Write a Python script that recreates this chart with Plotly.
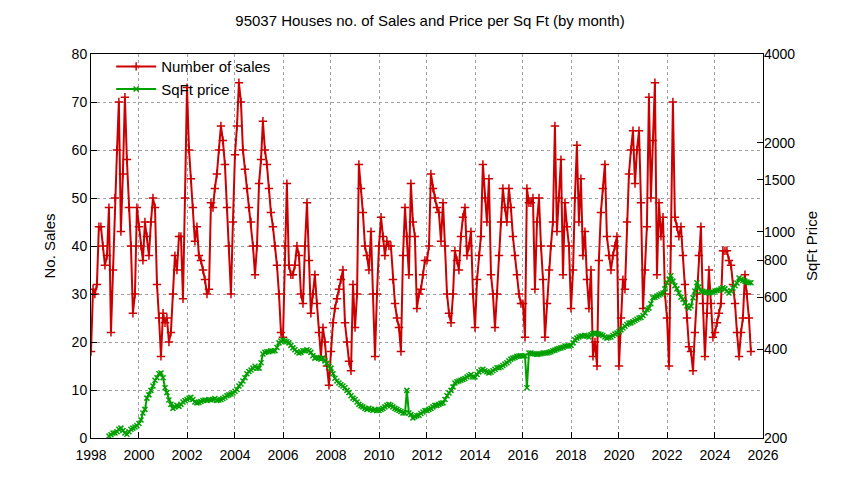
import pandas as pd
import plotly.graph_objects as go

# monthly number of sales, Jan 1998 - Jul 2025
sales = [
    18, 31, 30, 32, 44, 44, 40, 36, 38, 48, 22, 35,   # 1998
    50, 60, 70, 43, 55, 71, 58, 48, 40, 26, 30, 48,   # 1999
    44, 40, 37, 45, 42, 38, 45, 50, 48, 32, 25, 17,   # 2000
    26, 24, 25, 20, 22, 30, 38, 35, 42, 42, 29, 50,   # 2001
    73, 60, 54, 48, 41, 44, 38, 37, 35, 33, 30, 31,   # 2002
    49, 48, 52, 55, 60, 65, 62, 57, 48, 40, 30, 45,   # 2003
    59, 65, 74, 70, 60, 56, 52, 48, 45, 40, 34, 40,   # 2004
    53, 58, 66, 60, 57, 52, 47, 44, 40, 36, 30, 22,   # 2005
    21, 40, 53, 36, 34, 34, 36, 40, 38, 30, 28, 40,   # 2006
    49, 37, 26, 30, 34, 28, 22, 17, 23, 20, 15, 11,   # 2007
    18, 24, 27, 29, 31, 33, 35, 24, 20, 16, 14, 32,   # 2008
    23, 30, 57, 52, 47, 40, 38, 35, 43, 30, 17, 30,   # 2009
    40, 46, 42, 38, 41, 40, 40, 33, 28, 25, 23, 18,   # 2010
    38, 48, 42, 34, 53, 45, 42, 27, 30, 31, 34, 37,   # 2011
    37, 40, 55, 52, 50, 48, 47, 41, 49, 40, 30, 26,   # 2012
    24, 30, 39, 37, 35, 42, 46, 48, 38, 40, 43, 30,   # 2013
    23, 33, 38, 42, 57, 50, 45, 54, 34, 30, 23, 30,   # 2014
    38, 45, 52, 48, 45, 52, 48, 42, 38, 34, 30, 28,   # 2015
    28, 21, 52, 49, 49, 50, 31, 45, 50, 40, 33, 21,   # 2016
    28, 35, 40, 45, 65, 43, 50, 58, 34, 49, 44, 40,   # 2017
    27, 35, 50, 61, 45, 54, 38, 43, 33, 27, 35, 17,   # 2018
    20, 15, 37, 47, 52, 57, 42, 38, 35, 38, 40, 42,   # 2019
    15, 25, 33, 31, 45, 55, 60, 64, 53, 60, 64, 49,   # 2020
    27, 35, 44, 71, 50, 62, 74, 34, 49, 42, 46, 30,   # 2021
    25, 15, 40, 70, 46, 44, 42, 44, 38, 32, 25, 19,   # 2022
    18, 14, 22, 30, 38, 44, 28, 17, 26, 35, 28, 21,   # 2023
    22, 24, 26, 28, 39, 39, 39, 37, 36, 32, 28, 22,   # 2024
    17, 22, 25, 34, 30, 25, 18,                       # 2025
]

# monthly price per sq ft, Oct 1998 - Jul 2025
sqft_price = [
    203, 205, 208,                                              # 1998
    208, 210, 214, 216, 212, 208, 206, 210, 214, 216, 218, 220,  # 1999
    224, 230, 243, 250, 273, 280, 290, 300, 314, 320, 330, 332,  # 2000
    320, 296, 285, 269, 260, 252, 255, 258, 256, 260, 265, 268,  # 2001
    270, 273, 275, 270, 265, 263, 264, 266, 268, 269, 268, 270,  # 2002
    269, 270, 272, 268, 269, 270, 272, 275, 278, 280, 282, 284,  # 2003
    288, 292, 300, 305, 312, 320, 330, 336, 340, 345, 350, 345,  # 2004
    345, 360, 385, 390, 392, 392, 395, 394, 395, 405, 420, 426,  # 2005
    430, 426, 424, 420, 412, 404, 398, 392, 388, 390, 395, 395,  # 2006
    398, 395, 390, 380, 373, 375, 373, 370, 373, 365, 358, 350,  # 2007
    345, 330, 319, 312, 307, 303, 300, 296, 290, 285, 278, 273,  # 2008
    270, 265, 260, 257, 255, 252, 250, 252, 250, 248, 250, 248,  # 2009
    248, 250, 252, 255, 258, 260, 258, 255, 252, 250, 248, 246,  # 2010
    243, 243, 290, 243, 240, 234, 236, 238, 239, 242, 245, 248,  # 2011
    248, 250, 252, 255, 258, 258, 260, 262, 263, 270, 278, 284,  # 2012
    290, 298, 307, 310, 312, 314, 316, 318, 322, 325, 328, 322,  # 2013
    322, 328, 335, 340, 342, 338, 335, 332, 334, 338, 342, 346,  # 2014
    346, 348, 352, 356, 360, 365, 370, 373, 375, 378, 379, 380,  # 2015
    379, 380, 296, 388, 388, 386, 385, 384, 385, 386, 388, 388,  # 2016
    388, 390, 392, 395, 397, 400, 402, 404, 406, 410, 410, 410,  # 2017
    412, 420, 430, 436, 440, 443, 443, 446, 443, 440, 448, 452,  # 2018
    454, 452, 450, 448, 445, 440, 436, 438, 440, 445, 450, 454,  # 2019
    458, 465, 472, 478, 485, 490, 491, 495, 500, 505, 510, 512,  # 2020
    520, 530, 545, 551, 570, 597, 600, 605, 610, 615, 620, 640,  # 2021
    671, 690, 709, 680, 656, 640, 620, 600, 590, 574, 560, 551,  # 2022
    560, 597, 630, 671, 650, 630, 628, 625, 622, 620, 622, 625,  # 2023
    630, 632, 635, 640, 646, 640, 630, 620, 630, 645, 656, 670,  # 2024
    697, 690, 684, 680, 675, 671, 671,                          # 2025
]

sales_dates = pd.date_range("1998-01-01", periods=len(sales), freq="MS")
price_dates = pd.date_range("1998-10-01", periods=len(sqft_price), freq="MS")

price_ticks = [200, 400, 600, 800, 1000, 1500, 2000, 4000]
year_ticks = [str(y) for y in range(1998, 2027, 2)]

RED = "#cc0000"
GREEN = "#00a000"

fig = go.Figure()

fig.add_trace(go.Scatter(
    x=sales_dates, y=sales, name="Number of sales", mode="lines+markers",
    line=dict(color=RED, width=2),
    marker=dict(symbol="cross-thin", size=6, line=dict(color=RED, width=1.5)),
))
fig.add_trace(go.Scatter(
    x=price_dates, y=sqft_price, name="SqFt price", mode="lines+markers",
    yaxis="y2",
    line=dict(color=GREEN, width=2),
    marker=dict(symbol="x-thin", size=5, line=dict(color=GREEN, width=1.5)),
))

grid = dict(showgrid=True, gridcolor="#a0a0a0", griddash="dot", gridwidth=1)
axis_common = dict(showline=True, linecolor="black", linewidth=1, mirror=True,
                   ticks="inside", ticklen=6, tickcolor="black", automargin=False,
                   tickfont=dict(size=14, color="black"), zeroline=False)

fig.update_layout(
    width=844, height=480,
    margin=dict(l=83, r=89, t=46, b=50, autoexpand=False),
    paper_bgcolor="white", plot_bgcolor="white",
    font=dict(family="Liberation Sans, Arial, sans-serif", color="black"),
    title=dict(text="95037 Houses no. of Sales and Price per Sq Ft (by month)",
               x=0.5, xanchor="center", y=0.985, yanchor="top",
               font=dict(size=15)),
    showlegend=True,
    legend=dict(x=0.03, y=1.01, xanchor="left", yanchor="top",
                bgcolor="rgba(0,0,0,0)", font=dict(size=15),
                tracegroupgap=0, itemwidth=40),
    xaxis=dict(range=["1998-01-01", "2026-01-01"],
               tickvals=[f"{y}-01-01" for y in year_ticks], ticktext=year_ticks,
               ticklabelstandoff=4, **grid, **axis_common),
    yaxis=dict(range=[0, 80], dtick=10,
               title=dict(text="No. Sales", font=dict(size=15), standoff=12),
               **grid, **axis_common),
    yaxis2=dict(type="log", overlaying="y", side="right",
                range=[2.30103, 3.60206], tickvals=price_ticks,
                ticktext=[str(v) for v in price_ticks],
                title=dict(text="SqFt Price", font=dict(size=15), standoff=12),
                showgrid=False, showline=False, ticks="inside", ticklen=6,
                tickcolor="black", tickfont=dict(size=14, color="black"),
                zeroline=False, automargin=False),
)

fig.write_html("out.html")
